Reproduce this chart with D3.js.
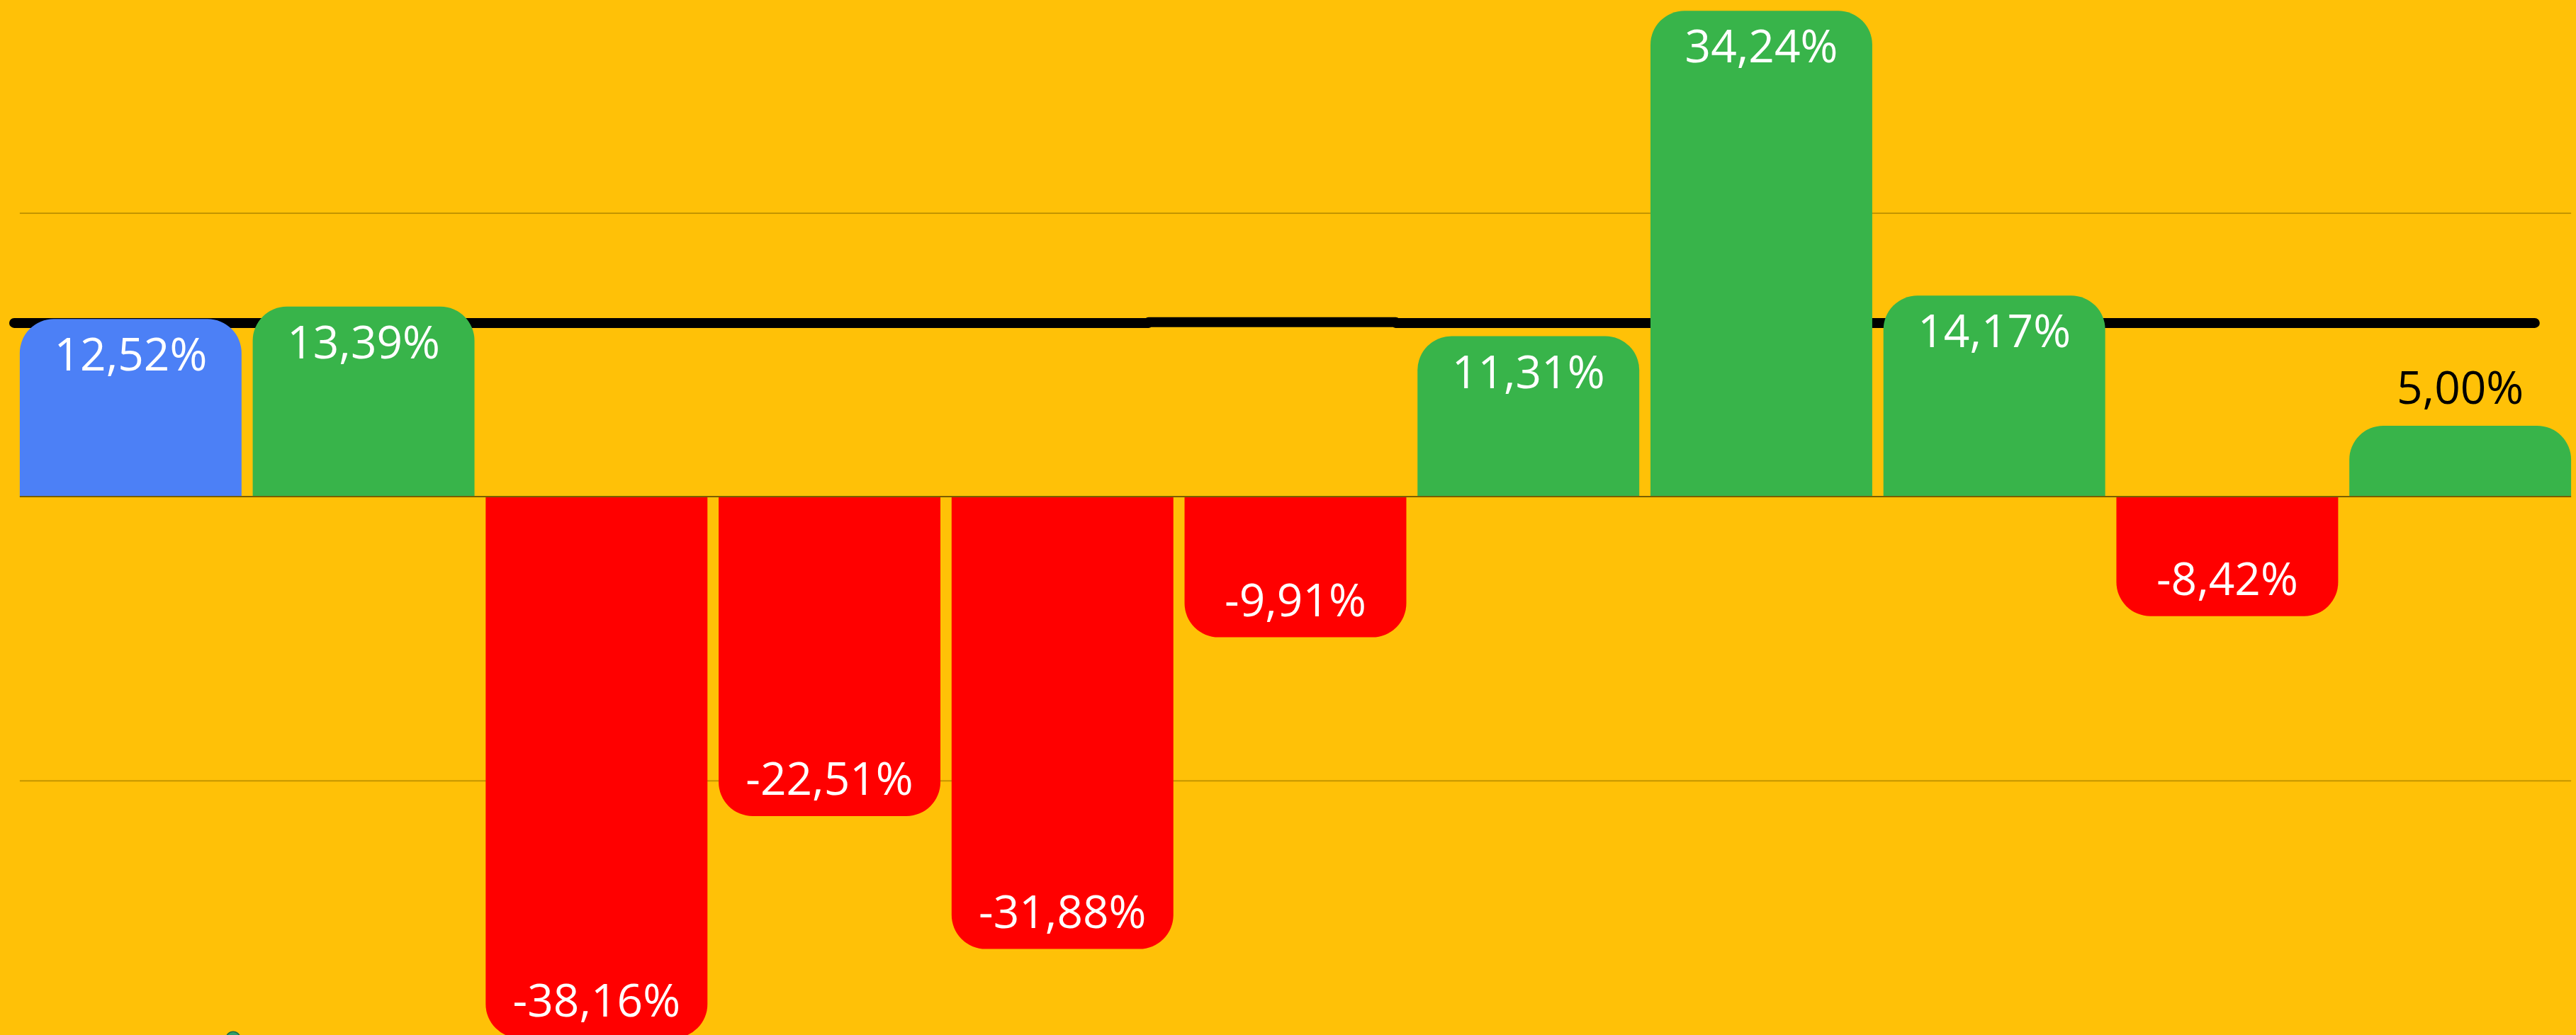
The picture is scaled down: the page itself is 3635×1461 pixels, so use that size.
<!DOCTYPE html>
<html>
<head>
<meta charset="utf-8">
<script src="https://cdn.jsdelivr.net/npm/d3@7"></script>
<style>
  html, body { margin: 0; padding: 0; background: #FFC107; overflow: hidden; }
  svg { display: block; }
</style>
</head>
<body>
<svg id="chart" width="3635" height="1461"></svg>
<script>
// ---- data ----
const categories = ["1", "2", "3", "4", "5", "6", "7", "8", "9", "10", "11"];
const values = [12.52, 13.39, -38.16, -22.51, -31.88, -9.91, 11.31, 34.24, 14.17, -8.42, 5.00];
const highlighted = ["1"];
const gridTicks = [-20, 20];
// reference line: position along the category axis (in category units) and value
const refLinePos = [0, 4.87, 4.87, 5.93, 5.93, 10.82];
const refLineVal = [12.24, 12.24, 12.30, 12.30, 12.24, 12.24];
// stray marker visible at the bottom edge
const markerPos = [0.94];
const markerVal = [-38.2];

// ---- layout ----
const W = 3635, H = 1461;
const svg = d3.select("#chart");
svg.append("rect").attr("width", W).attr("height", H).attr("fill", "#FFC107");

const y = d3.scaleLinear().domain([-37.94, 35.0]).range([H, 0]);
const x = d3.scaleBand().domain(categories).range([20, 3636]).paddingInner(0.048).paddingOuter(0.024);
const xi = d3.scaleLinear().domain([0, categories.length]).range([20, 3636]);

const locale = d3.formatLocale({ decimal: ",", thousands: ".", grouping: [3], currency: ["", "€"], minus: "-" });
const fmt = v => locale.format(".2f")(v) + "%";

// gridlines
const gx0 = x(categories[0]), gx1 = x(categories[categories.length - 1]) + x.bandwidth();
const grid = svg.append("g")
  .attr("transform", `translate(${gx0},0)`)
  .call(d3.axisLeft(y).tickValues(gridTicks).tickSize(-(gx1 - gx0)).tickFormat(""));
grid.select(".domain").remove();
grid.selectAll(".tick line").attr("stroke", "#C49500").attr("stroke-width", 2);

// reference line (behind bars)
const refData = refLinePos.map((p, i) => [p, refLineVal[i]]);
svg.append("path")
  .datum(refData)
  .attr("d", d3.line().x(d => xi(d[0])).y(d => y(d[1])))
  .attr("fill", "none").attr("stroke", "#000").attr("stroke-width", 14)
  .attr("stroke-linecap", "round").attr("stroke-linejoin", "round");

// bars with rounded outer corners
const r = 48;
function barPath(d, i) {
  const x0 = x(categories[i]), w = x.bandwidth();
  const y0 = y(0), y1 = y(d);
  const rr = Math.min(r, Math.abs(y1 - y0), w / 2);
  if (d >= 0) {
    return `M${x0},${y0}V${y1 + rr}A${rr},${rr} 0 0 1 ${x0 + rr},${y1}H${x0 + w - rr}A${rr},${rr} 0 0 1 ${x0 + w},${y1 + rr}V${y0}Z`;
  } else {
    return `M${x0},${y0}V${y1 - rr}A${rr},${rr} 0 0 0 ${x0 + rr},${y1}H${x0 + w - rr}A${rr},${rr} 0 0 0 ${x0 + w},${y1 - rr}V${y0}Z`;
  }
}
function barColor(d, i) {
  if (highlighted.includes(categories[i])) return "#4C80F6";
  return d >= 0 ? "#38B44A" : "#FF0000";
}
svg.append("g").selectAll("path").data(values).join("path")
  .attr("d", barPath)
  .attr("fill", barColor);

// zero line
svg.append("line")
  .attr("x1", gx0).attr("x2", gx1)
  .attr("y1", y(0)).attr("y2", y(0))
  .attr("stroke", "#7A5E00").attr("stroke-width", 2);

// marker
svg.append("g").selectAll("circle").data(markerPos).join("circle")
  .attr("cx", d => xi(d)).attr("cy", (d, i) => y(markerVal[i]))
  .attr("r", 10).attr("fill", "#2E9E6A").attr("stroke", "#1F6B45").attr("stroke-width", 1.5);

// labels
const minInside = 120;
svg.append("g").selectAll("text").data(values).join("text")
  .attr("x", (d, i) => x(categories[i]) + x.bandwidth() / 2)
  .attr("y", d => {
    const h = Math.abs(y(d) - y(0));
    if (h < minInside) return y(d) - 31;
    return d >= 0 ? y(d) + 73 : y(d) - 30;
  })
  .attr("text-anchor", "middle")
  .attr("font-family", "'Open Sans', 'Noto Sans', sans-serif")
  .attr("font-size", 64)
  .attr("fill", d => Math.abs(y(d) - y(0)) < minInside ? "#000" : "#fff")
  .text(d => fmt(d));
</script>
</body>
</html>
